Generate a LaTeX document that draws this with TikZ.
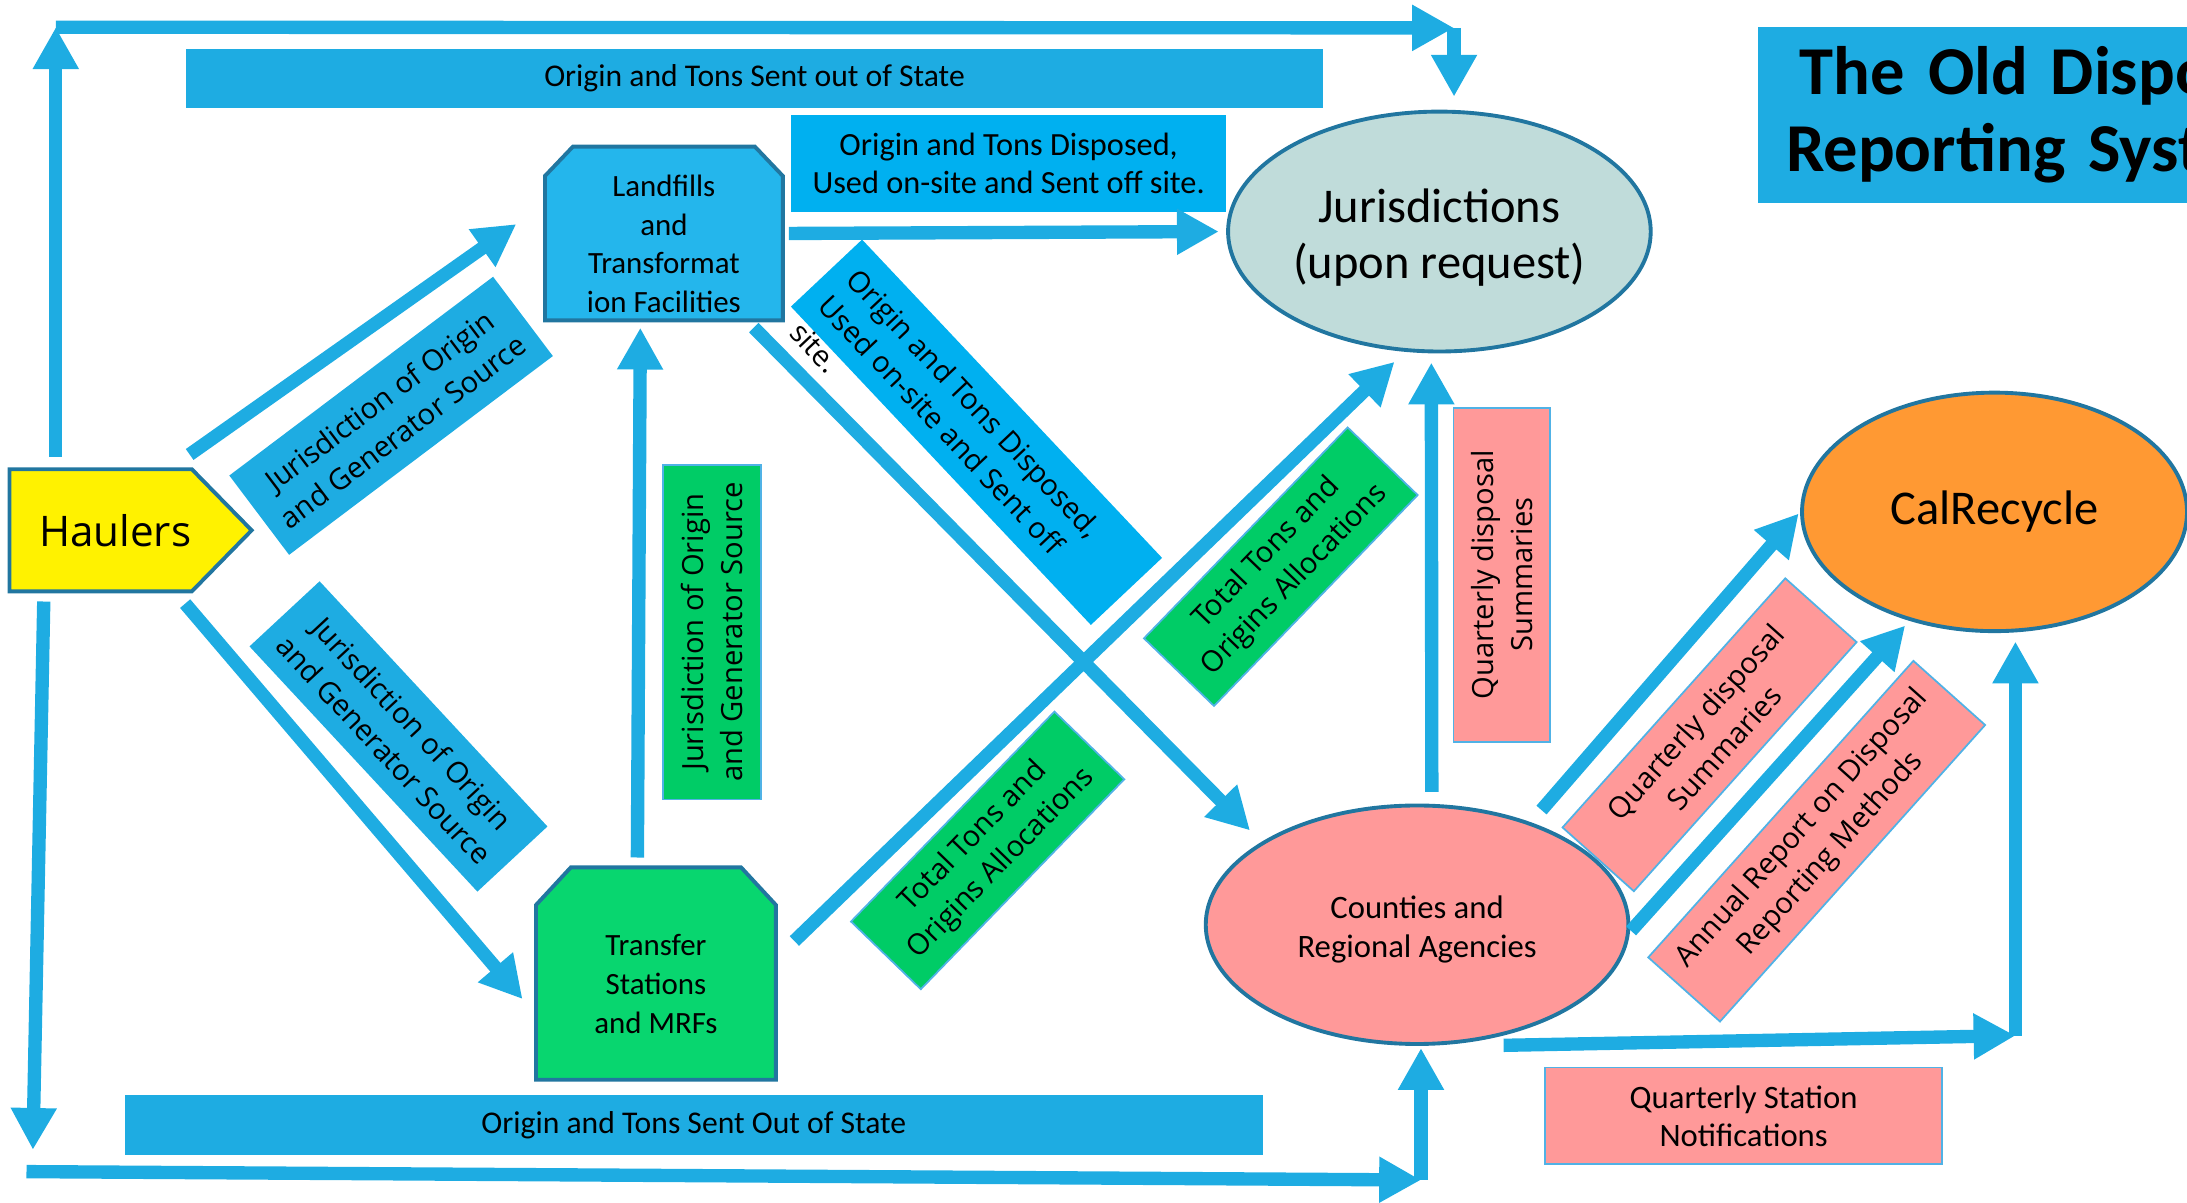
\documentclass[tikz,border=0pt]{standalone}
\usepackage{fontspec}
\setmainfont{Carlito}
\newfontfamily\labfont{Open Sans}
\usepackage{tikz}
\usetikzlibrary{arrows.meta, shapes.geometric, backgrounds}

\definecolor{flowblue}{RGB}{30,172,226}
\definecolor{skyblue}{RGB}{0,176,240}
\definecolor{landblue}{RGB}{36,182,236}
\definecolor{rimblue}{RGB}{33,118,160}
\definecolor{hairblue}{RGB}{80,178,230}
\definecolor{tagreen}{RGB}{0,204,102}
\definecolor{mrfgreen}{RGB}{8,214,111}
\definecolor{rose}{RGB}{255,153,153}
\definecolor{calorange}{RGB}{255,153,51}
\definecolor{jurteal}{RGB}{192,220,218}

\newlength{\dpx}
\setlength{\dpx}{0.013948cm}

\begin{document}
\begin{tikzpicture}
	[x=0.013948cm, y=-0.013948cm,
	 dims/.style 2 args={minimum width=#1*\dpx, minimum height=#2*\dpx},
	 flow/.style={line width=3.8pt, color=flowblue, -{Triangle[length=11.9pt,width=12.3pt]}},
	 place/.style={ellipse, draw=rimblue, line width=1.1pt, inner sep=0pt, align=center},
	 site/.style={inner sep=0pt, align=center, font=\fontsize{8.8}{11}\selectfont},
	 tag/.style={inner sep=0pt, align=center, font=\labfont\fontsize{8.3}{11}\selectfont},
	 bluetag/.style={tag, fill=flowblue},
	 greentag/.style={tag, fill=tagreen, draw=hairblue, line width=0.5pt},
	 rosetag/.style={tag, fill=rose, draw=hairblue, line width=0.5pt},
	 banner/.style={fill=flowblue, inner sep=0pt, font=\fontsize{9}{11}\selectfont},
	 note/.style={inner sep=0pt, align=center, font=\fontsize{9.2}{10.7}\selectfont}]
   \useasboundingbox (0,0) rectangle (1568,862);

   % places
   \node[place, fill=jurteal, dims={303}{172}, font=\fontsize{13.8}{15.9}\selectfont] (jur) at (1032,166) {\rule{0pt}{13pt}Jurisdictions\\(upon request)};
   \node[place, fill=calorange, dims={276}{171}, font=\fontsize{13.8}{16}\selectfont] (cal) at (1430,367) {CalRecycle};
   \node[place, fill=rose, dims={303}{171}, font=\fontsize{9.3}{11.1}\selectfont] (cty) at (1016,663) {\rule{0pt}{9pt}Counties and\\Regional Agencies};
   \node[site, dims={169.5}{123.5}] (land) at (476,167.4) {\rule{0pt}{12pt}Landfills\\and\\Transformat\\ion Facilities};
   \node[site, dims={171}{151.3}] (trans) at (470.3,698) {\rule{0pt}{12pt}Transfer\\Stations\\and MRFs};
   \node[inner sep=0pt, dims={127.6}{86.5}, font=\labfont\fontsize{12}{14}\selectfont] (haul) at (72.2,380.2) {\hspace*{8.2pt}Haulers};
   \node[fill=flowblue, anchor=west, inner xsep=20*\dpx, inner ysep=0pt, dims={308}{126}, text width=268*\dpx, align=left,
         font=\bfseries\fontsize{19.5}{22}\selectfont] (title) at (1260,82.5) {\mbox{\hspace*{10\dpx}The Old Dispo}\\\mbox{Reporting Syst}};

   \begin{scope}[on background layer]
      \filldraw[fill=yellow, draw=rimblue, line width=1.1pt] (haul.north west) -- (haul.north east) -- ([xshift=17pt]haul.east) -- (haul.south east) -- (haul.south west) -- cycle;
      \filldraw[fill=landblue, draw=rimblue, line width=1.1pt] ([yshift=-21*\dpx]land.north west) -- ([xshift=20*\dpx]land.north west) -- ([xshift=-20*\dpx]land.north east) -- ([yshift=-21*\dpx]land.north east) -- (land.south east) -- (land.south west) -- cycle;
      \filldraw[fill=mrfgreen, draw=rimblue, line width=1.1pt] ([yshift=-27*\dpx]trans.north west) -- ([xshift=25*\dpx]trans.north west) -- ([xshift=-25*\dpx]trans.north east) -- ([yshift=-27*\dpx]trans.north east) -- (trans.south east) -- (trans.south west) -- cycle;
   \end{scope}

   % labels
   \node[banner, dims={815.4}{42.5}] (outTop) at (541,56.4) {Origin and Tons Sent out of State};
   \node[banner, dims={816}{42.7}] (outBot) at (497.5,806.6) {Origin and Tons Sent Out of State};
   \node[note, fill=skyblue, dims={311.8}{70}] (dispTop) at (723.2,117.3) {Origin and Tons Disposed,\\Used on-site and Sent off site.};
   \node[note, fill=rose, draw=hairblue, line width=0.5pt, dims={284.8}{69.4}, font=\fontsize{9.3}{10.7}\selectfont] (qsn) at (1250.1,800.1) {Quarterly Station\\Notifications};
   \node[bluetag, rotate=37, dims={236.8}{71.2}] (jogA) at (280.4,298.1) {Jurisdiction of Origin\\and Generator Source};
   \node[bluetag, rotate=-47.1, dims={240}{68.6}] (jogB) at (285.7,528) {Jurisdiction of Origin\\and Generator Source};
   \node[greentag, rotate=90, dims={240}{70.4}] (jogV) at (510.5,453.2) {Jurisdiction of Origin\\and Generator Source};
   \node[greentag, rotate=45.9, dims={209.6}{69.7}] (ttoA) at (708.1,609.7) {Total Tons and\\Origins Allocations};
   \node[greentag, rotate=46, dims={210.2}{69.8}] (ttoB) at (918.3,406.3) {Total Tons and\\Origins Allocations};
   \node[rosetag, rotate=90, dims={239.5}{69.3}] (qdsV) at (1076.7,412) {Quarterly disposal\\Summaries};
   \node[rosetag, rotate=48.2, dims={239.6}{68.6}] (qdsD) at (1225.7,526.8) {Quarterly disposal\\Summaries};
   \node[rosetag, rotate=48.2, dims={285.2}{69}] (arm) at (1302.5,603.1) {Annual Report on Disposal\\Reporting Methods};
   \node[fill=skyblue, inner sep=0pt, rotate=-46.7, dims={313.6}{70.1}] (dispDiag) at (700.1,309.9) {};
   \node[tag, anchor=north west, rotate=-46.7, align=left, inner xsep=13*\dpx, inner ysep=13.7*\dpx] (dispNote) at (dispDiag.north west) {Origin and Tons Disposed,\\Used on-site and Sent off\\site.};

   % corners
   \coordinate (cTL) at (40,19.5);
   \coordinate (cTR) at (1042.5,20);
   \coordinate (cBL) at (19,840);
   \coordinate (cBM) at (1018.8,846);
   \coordinate (cBR) at (1445,742.5);

   \path[flow]
    (haul.north -| cTL) edge[shorten <=3.6pt] (cTL)
    (cTL) edge (cTR)
    (cTR) edge[shorten >=3.7pt] (jur.north -| cTR)
    ([xshift=-6.6pt]haul.north east) edge[shorten <=7.3pt, shorten >=10pt] (land.166)
    ([xshift=-4.9pt]haul.south east) edge[shorten <=4.6pt, shorten >=5.9pt] (trans.199.4)
    ([xshift=9.8pt]haul.south west) edge[shorten <=2.9pt, shorten >=6.2pt] ([xshift=1.7pt]cBL)
    (cBL) edge (cBM)
    (cBM) edge[shorten >=0.6pt] (cty.south -| cBM)
    ([xshift=-5.3pt]trans.north) edge[shorten <=2.8pt, shorten >=2.1pt] ([xshift=-6.7pt]land.south)
    (trans.7.7) edge[shorten <=7.3pt, shorten >=4.1pt] (jur.254.2)
    (land.east) edge[shorten <=1.7pt, shorten >=2.1pt] (jur.west)
    ([xshift=-10.3pt]land.south east) edge[shorten <=2.9pt, shorten >=4.6pt] (cty.152.8)
    ([xshift=4.2pt]cty.north) edge[shorten <=3.3pt, shorten >=2.6pt] ([xshift=-2.3pt]jur.south)
    (cty.42.5) edge[shorten <=4.6pt, shorten >=0.6pt] (cal.west)
    (cty.-2) edge[shorten <=0.5pt, shorten >=1.8pt] (cal.232.2)
    ([yshift=-2.8pt]cty.-52.7) edge (cBR)
    (cBR) edge[shorten >=2.4pt] (cal.south -| cBR);

\end{tikzpicture}
\end{document}
